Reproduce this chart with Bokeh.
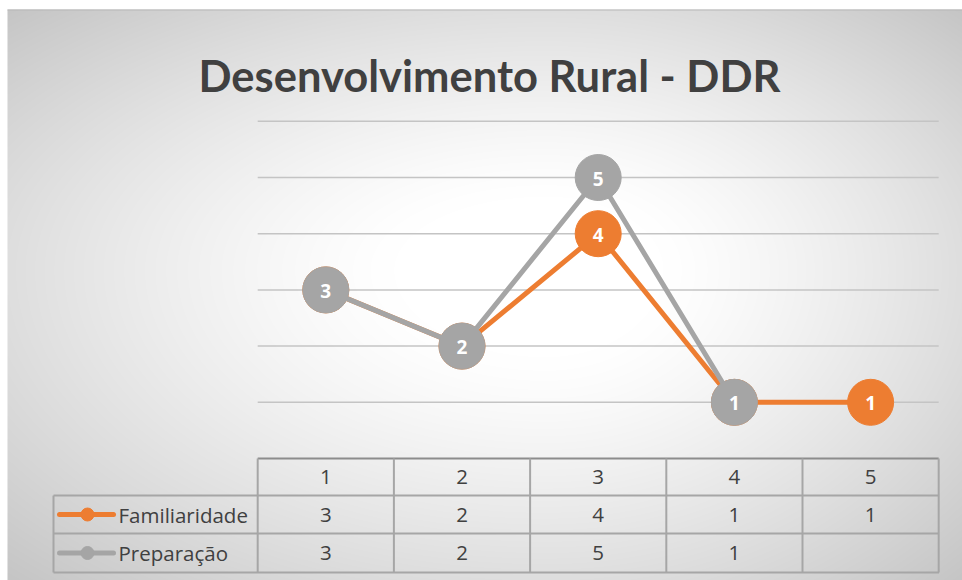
import numpy as np
from bokeh.plotting import figure
from bokeh.models import Range1d
from bokeh.core.properties import value
from bokeh.embed import file_html
from bokeh.resources import INLINE

# ---------------- data ----------------
title = "Desenvolvimento Rural - DDR"
categories = [1, 2, 3, 4, 5]
series_names = ["Familiaridade", "Preparação"]
familiaridade = [3, 2, 4, 1, 1]
preparacao = [3, 2, 5, 1, None]
y_ticks = [1, 2, 3, 4, 5, 6]
series_colors = ["#ED7D31", "#A5A5A5"]

# ---------------- layout helpers ----------------
W, H = 962, 580
col_w = 136.2          # px per category
cat1_px = 325.3        # page x of category 1
step_v = 56.2          # px per value unit
v0_py = 458.0          # page y of value 0


def fx(px):            # page x -> frame px
    return px


def fy(py):            # page y -> frame px from bottom
    return H - py


x0 = 1 - cat1_px / col_w
x1 = x0 + W / col_w
y_top = v0_py / step_v
y_bot = y_top - H / step_v

p = figure(width=W, height=H, output_backend="svg", toolbar_location=None,
           x_range=Range1d(x0, x1), y_range=Range1d(y_bot, y_top),
           x_axis_location=None, y_axis_location=None, min_border=0,
           border_fill_color="white", background_fill_color="white")
p.grid.visible = False
p.outline_line_color = None
p.extra_x_ranges = {"px": Range1d(0, W)}
p.extra_y_ranges = {"px": Range1d(0, H)}

# ---------------- background gradient (chart area) ----------------
bx0, by0 = 7, 9          # page top-left of chart area
BW, BH = W - bx0, H - by0
yy, xx = np.mgrid[0:BH, 0:BW].astype(float)
cx, cy = 545 - bx0, BH - (270 - by0)
nx = np.where(xx < cx, (xx - cx) / cx, (xx - cx) / (BW - cx))
ny = np.where(yy > cy, (yy - cy) / (BH - cy), (yy - cy) / cy)
r = np.sqrt(nx ** 2 + ny ** 2) / np.sqrt(2)
t = np.clip((r - 0.2) / 0.8, 0, 1) ** 1.25
g = (255 - (255 - 197) * t).astype(np.uint32)
img = (255 << 24) | (g << 16) | (g << 8) | g
p.image_rgba(image=[img.astype(np.uint32)], x=fx(bx0), y=0, dw=BW, dh=BH,
             x_range_name="px", y_range_name="px")
p.segment(x0=[fx(bx0)], x1=[W], y0=[fy(by0) - 0.5], y1=[fy(by0) - 0.5],
          line_color="#b8b8b8", line_width=1,
          x_range_name="px", y_range_name="px")

# ---------------- title ----------------
p.text(x=[fx(489)], y=[fy(74)], text=[title], text_align="center",
       text_baseline="alphabetic", text_font=value("Lato"),
       text_font_style="bold", text_font_size="43.5px", text_color="#404040",
       x_range_name="px", y_range_name="px")

# ---------------- gridlines ----------------
edge_lo = categories[0] - 0.5
edge_hi = categories[-1] + 0.5
p.segment(x0=[edge_lo] * len(y_ticks), x1=[edge_hi] * len(y_ticks),
          y0=y_ticks, y1=y_ticks, line_color="#c4c4c4", line_width=1.5)

# ---------------- series ----------------
fam = np.array(familiaridade, dtype=float)
prep = np.array([np.nan if v is None else v for v in preparacao], dtype=float)
for vals, col in zip([fam, prep], series_colors):
    p.line(categories, vals, line_color=col, line_width=5, line_join="round")
    p.scatter(categories, vals, size=46, fill_color=col, line_color=col,
              line_width=1)
    lab = ["" if np.isnan(v) else str(int(v)) for v in vals]
    p.text(x=categories, y=vals, text=lab, text_align="center",
           text_baseline="middle", text_font=value("Open Sans"),
           text_font_style="bold", text_font_size="19px", text_color="white",
           y_offset=1)

# ---------------- data table ----------------
grid_col = "#a6a6a6"
row_edges = [495, 533, 572]                 # page y
left_px = fx(53)
# axis line (value 0)
p.segment(x0=[edge_lo], x1=[edge_hi], y0=[0], y1=[0],
          line_color="#8c8c8c", line_width=2)
# horizontal rules
for ry in row_edges:
    p.segment(x0=[left_px], x1=[fx(938.5)], y0=[fy(ry)], y1=[fy(ry)],
              line_color=grid_col, line_width=2,
              x_range_name="px", y_range_name="px")
# vertical rules at category edges
edges = [c - 0.5 for c in categories] + [edge_hi]
p.segment(x0=edges, x1=edges, y0=[fy(458)] * len(edges),
          y1=[fy(572)] * len(edges), line_color=grid_col, line_width=2,
          y_range_name="px")
p.segment(x0=[left_px], x1=[left_px], y0=[fy(495)], y1=[fy(572)],
          line_color=grid_col, line_width=2,
          x_range_name="px", y_range_name="px")

row_centers = [476.5, 514, 552.5]
tfont = value("Open Sans")
fs = "20.5px"
p.text(x=categories, y=[fy(row_centers[0])] * len(categories),
       text=[str(c) for c in categories], text_align="center",
       text_baseline="middle", text_font=tfont, text_font_size=fs,
       text_color="#404040", y_range_name="px")
for vals, rc, name, col in zip([familiaridade, preparacao], row_centers[1:],
                               series_names, series_colors):
    p.text(x=categories, y=[fy(rc)] * len(categories),
           text=["" if v is None else str(v) for v in vals],
           text_align="center", text_baseline="middle", text_font=tfont,
           text_font_size=fs, text_color="#404040", y_range_name="px")
    # legend key
    p.segment(x0=[fx(59)], x1=[fx(113)], y0=[fy(rc)], y1=[fy(rc)],
              line_color=col, line_width=5, line_cap="round",
              x_range_name="px", y_range_name="px")
    p.scatter(x=[fx(87)], y=[fy(rc)], size=13, fill_color=col, line_color=col,
              x_range_name="px", y_range_name="px")
    p.text(x=[fx(118)], y=[fy(rc)], text=[name], text_align="left",
           text_baseline="middle", text_font=tfont, text_font_size=fs,
           text_color="#404040", x_range_name="px", y_range_name="px")

open("out.html", "w").write(file_html(p, INLINE))
